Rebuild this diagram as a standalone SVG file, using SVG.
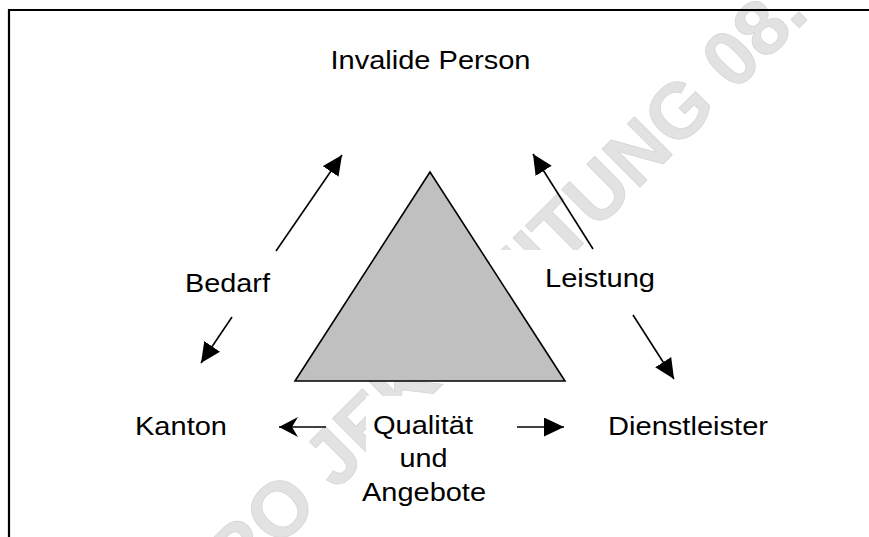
<svg xmlns="http://www.w3.org/2000/svg" width="869" height="537" viewBox="0 0 869 537">
  <style>
    .lbl { font-family: "Liberation Sans", Arial, Helvetica, sans-serif; font-size: 26px; fill: #000; }
    .wm { font-family: "Liberation Sans", Arial, sans-serif; font-weight: bold; font-size: 78px; fill: #e2e2e2; stroke: #d6d6d6; stroke-width: 0.8; }
    .conn { stroke: #000; stroke-width: 1.6; fill: none; }
    .frame { stroke: #000; stroke-width: 2.2; fill: none; }
    .box { fill: #fff; stroke: none; }
  </style>
  <defs>
    <marker id="head" markerUnits="userSpaceOnUse" markerWidth="21" markerHeight="20" refX="20" refY="9.5" orient="auto">
      <path d="M0,0 L20,9.5 L0,19 z" fill="#000"/>
    </marker>
    <marker id="barb" markerUnits="userSpaceOnUse" markerWidth="20" markerHeight="20" refX="19" refY="10" orient="auto">
      <path d="M0,0 L19,10 L0,20 L6,10 z" fill="#000"/>
    </marker>
  </defs>
  <rect x="0" y="0" width="869" height="537" fill="#fff"/>
  <!-- watermark -->
  <text class="wm" transform="translate(201,626) rotate(-45)" x="0" y="0"><tspan>PRO</tspan><tspan dx="22">JEKT</tspan><tspan dx="-11">-</tspan><tspan dx="-11">LEITUNG 08.</tspan></text>
  <!-- white text-box backgrounds -->
  <rect class="box" x="490" y="250" width="200" height="64"/>
  <rect class="box" x="366" y="396" width="134" height="124"/>
  <!-- frame -->
  <path class="frame" d="M9,537 L9,10 L869,10"/>

  <g id="triangle">
    <polygon points="430,172 295,381 565,381" fill="#c0c0c0" stroke="#000" stroke-width="1.6" stroke-linejoin="miter"/>
  </g>
  <g id="invalide-person">
    <text class="lbl" x="430.5" y="69" text-anchor="middle" textLength="200" lengthAdjust="spacingAndGlyphs">Invalide Person</text>
  </g>
  <g id="kanton">
    <text class="lbl" x="135" y="435" textLength="92" lengthAdjust="spacingAndGlyphs">Kanton</text>
  </g>
  <g id="dienstleister">
    <text class="lbl" x="608" y="435" textLength="160" lengthAdjust="spacingAndGlyphs">Dienstleister</text>
  </g>
  <g id="qualitaet">
    <text class="lbl" x="423" y="434" text-anchor="middle" textLength="100" lengthAdjust="spacingAndGlyphs">Qualität</text>
    <text class="lbl" x="423.5" y="467" text-anchor="middle" textLength="48" lengthAdjust="spacingAndGlyphs">und</text>
    <text class="lbl" x="424" y="500.5" text-anchor="middle" textLength="124" lengthAdjust="spacingAndGlyphs">Angebote</text>
  </g>
  <g id="connectors">
    <line class="conn" x1="276" y1="251" x2="342" y2="155" marker-end="url(#head)"/>
    <line class="conn" x1="232" y1="317" x2="201" y2="363" marker-end="url(#head)"/>
    <line class="conn" x1="593" y1="249" x2="533" y2="154" marker-end="url(#head)"/>
    <line class="conn" x1="633" y1="315" x2="674" y2="379" marker-end="url(#head)"/>
    <line class="conn" x1="326" y1="427" x2="279" y2="427" marker-end="url(#barb)"/>
    <line class="conn" x1="517" y1="427" x2="564" y2="427" marker-end="url(#head)"/>
    <text class="lbl" x="185" y="292" textLength="85" lengthAdjust="spacingAndGlyphs">Bedarf</text>
    <text class="lbl" x="545" y="287" textLength="110" lengthAdjust="spacingAndGlyphs">Leistung</text>
  </g>
</svg>
